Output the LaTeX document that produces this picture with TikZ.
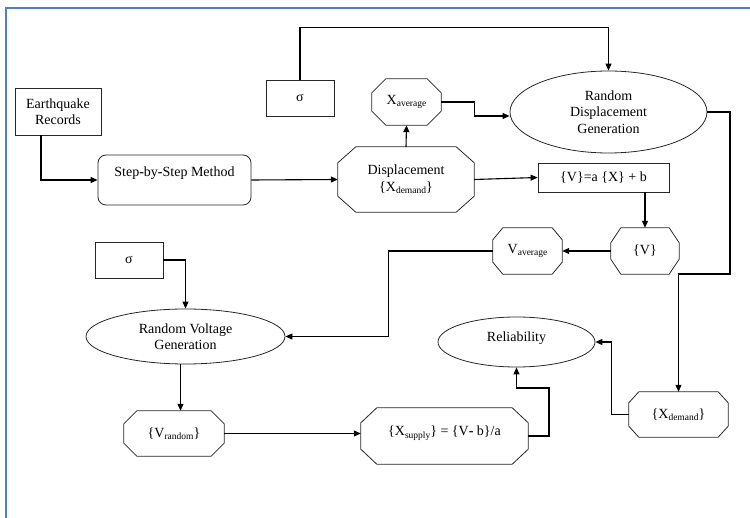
\documentclass[tikz,border=0pt]{standalone}
\usepackage{fontspec}
\setmainfont{Liberation Serif}
\usetikzlibrary{shapes.geometric,arrows.meta}
\definecolor{borderblue}{RGB}{79,129,189}
\newcommand\sub[1]{\raisebox{-0.35ex}{\fontsize{9.5}{10}\selectfont #1}}
\newcommand\octpath[3]{%
  \draw[shapeline] ([xshift=#2pt]#1.north west) -- ([xshift=-#2pt]#1.north east)
    -- ([yshift=-#3pt]#1.north east) -- ([yshift=#3pt]#1.south east)
    -- ([xshift=-#2pt]#1.south east) -- ([xshift=#2pt]#1.south west)
    -- ([yshift=#3pt]#1.south west) -- ([yshift=-#3pt]#1.north west) -- cycle;}
\begin{document}
\begin{tikzpicture}[x=1pt,y=-1pt,
  every node/.style={font=\fontsize{14}{16.5}\selectfont, inner sep=0pt, align=center},
  shapeline/.style={draw=black!85, line width=0.8pt},
  box/.style={rectangle, shapeline},
  octnode/.style={rectangle},
  ell/.style={ellipse, shapeline},
  conn/.style={line width=1.1pt},
  arr/.style={line width=1.1pt, -{Triangle[length=7pt,width=6pt]}}]
\useasboundingbox (0,0) rectangle (750,518);
\draw[borderblue, line width=2pt] (6,518) -- (6,8) -- (750,8);

% nodes
\node[box, minimum width=86pt, minimum height=47pt] (eq) at (58,111.5) {Earthquake\\Records};
\node[box, minimum width=68pt, minimum height=36pt] (s1) at (300,98) {σ};
\node[box, rounded corners=8pt, minimum width=153pt, minimum height=50pt] (step) at (174.5,180) {Step\textbf{-}by\textbf{-}Step Method\\\mbox{}};
\node[octnode, minimum width=69pt, minimum height=46pt] (xavg) at (406.5,102) {X\sub{average}};
\node[octnode, minimum width=136pt, minimum height=65pt] (disp) at (406,179.5) {Displacement\\\{X\sub{demand}\}};
\node[ell, minimum width=197pt, minimum height=82pt] (rd) at (608.5,112) {Random\\Displacement\\Generation};
\node[box, minimum width=131pt, minimum height=29pt] (vbox) at (603.5,177.5) {\{V\}=a \{X\} + b};
\node[octnode, minimum width=68pt, minimum height=46pt] (v) at (645,251) {\{V\}};
\node[octnode, minimum width=69pt, minimum height=46pt] (vavg) at (527.5,251) {V\sub{average}};
\node[box, minimum width=68pt, minimum height=36pt] (s2) at (129,260) {σ};
\node[ell, minimum width=199pt, minimum height=55pt] (rv) at (185.5,336.5) {Random Voltage\\Generation};
\node[ell, minimum width=157pt, minimum height=50pt] (rel) at (516.5,342) {Reliability\\[-6.5pt]\mbox{}};
\node[octnode, minimum width=100pt, minimum height=45pt] (vr) at (174,433.5) {\{V\sub{random}\}};
\node[octnode, minimum width=167pt, minimum height=56pt] (xs) at (444.5,436) {\{X\sub{supply}\} = \{V\textbf{-} b\}/a\\[-6.5pt]\mbox{}};
\node[octnode, minimum width=99pt, minimum height=45pt] (xd) at (678.5,414.5) {\{X\sub{demand}\}};

% octagon outlines
\octpath{xavg}{14}{14}
\octpath{disp}{18}{16}
\octpath{v}{10}{15}
\octpath{vavg}{10}{12}
\octpath{xd}{10}{11}
\octpath{vr}{13}{13}
\octpath{xs}{16}{15}

% connectors
\coordinate (c1) at (730,274);
\coordinate (c2) at (549,388);
\draw[arr] ([xshift=-17pt]eq.south) |- (step.west);
\draw[arr] (step.east) -- (disp.west);
\draw[arr] (s1.north) -- ++(0,-52) -| (rd.north);
\draw[arr] (disp.north) -- (xavg.south);
\draw[arr] (xavg.east) -- ++(33,0) |- ([yshift=-4pt]rd.west);
\draw[arr] (disp.east) -- (vbox.west);
\draw[arr] (vbox.south -| v.north) -- (v.north);
\draw[arr] (v.west) -- (vavg.east);
\draw[arr] (vavg.west) -- ++(-104,0) |- (rv.east);
\draw[arr] (rd.east) -| (c1) -| (xd.north);
\draw[arr] (s2.east) -| (rv.north);
\draw[arr] ([xshift=-5pt]rv.south) -- ([xshift=-5pt]rv.south |- vr.north);
\draw[arr] (vr.east) -- (vr.east -| xs.west);
\draw[arr] (xs.east) -| (c2) -| (rel.south);
\draw[arr] (xd.west) -- ++(-17,0) |- (rel.east);
\end{tikzpicture}
\end{document}
